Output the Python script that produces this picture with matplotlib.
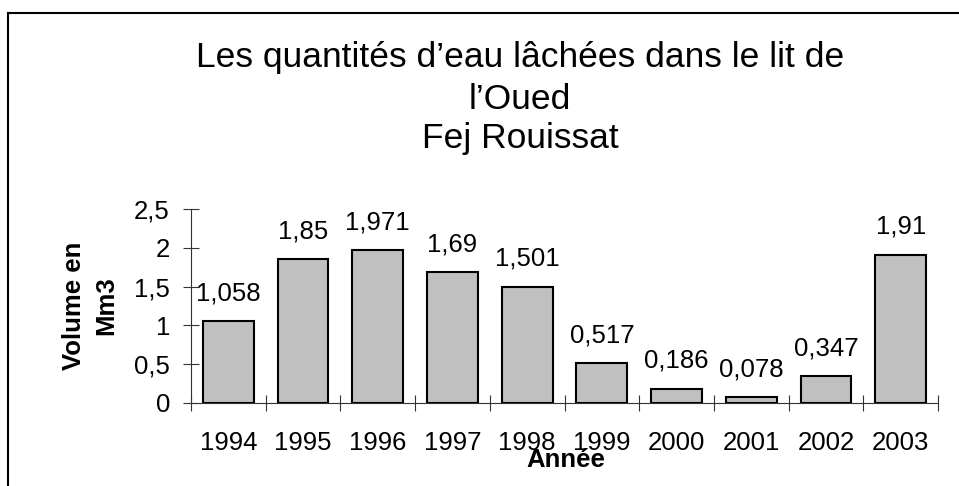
import matplotlib
matplotlib.use("Agg")
import matplotlib.pyplot as plt
from matplotlib.lines import Line2D

# Chart data
years = ["1994", "1995", "1996", "1997", "1998", "1999", "2000", "2001", "2002", "2003"]
volumes = [1.058, 1.85, 1.971, 1.69, 1.501, 0.517, 0.186, 0.078, 0.347, 1.91]
value_labels = ["1,058", "1,85", "1,971", "1,69", "1,501", "0,517", "0,186", "0,078", "0,347", "1,91"]
y_ticks = [0, 0.5, 1, 1.5, 2, 2.5]
y_tick_labels = ["0", "0,5", "1", "1,5", "2", "2,5"]
title_lines = ["Les quantités d\u2019eau lâchées dans le lit de", "l\u2019Oued", "Fej Rouissat"]

plt.rcParams["font.family"] = ["Liberation Sans", "DejaVu Sans"]

W, H = 959, 486
fig = plt.figure(figsize=(W / 100, H / 100), dpi=100)
ax = fig.add_axes([191 / W, 1 - 403 / H, (938 - 191) / W, (403 - 209) / H])

x = list(range(len(years)))
ax.bar(x, volumes, width=0.68, color="#c0c0c0", edgecolor="black", linewidth=1.5, zorder=3)

for xi, v, lab in zip(x, volumes, value_labels):
    ax.annotate(lab, (xi, v), xytext=(0, 15), textcoords="offset points",
                ha="center", va="baseline", fontsize=18.5)

ax.set_xlim(-0.5, len(years) - 0.5)
ax.set_ylim(0, 2.5)

# major x ticks at category boundaries, labels on minor ticks at centers
ax.set_xticks([i - 0.5 for i in range(len(years) + 1)])
ax.set_xticklabels([])
ax.set_xticks(x, minor=True)
ax.set_xticklabels(years, minor=True, fontsize=18.5)
ax.tick_params(axis="x", which="major", direction="inout", length=11.5, width=0.8, color="#333333")
ax.tick_params(axis="x", which="minor", length=0, pad=20)

ax.set_yticks(y_ticks)
ax.set_yticklabels(y_tick_labels, fontsize=18.5)
ax.tick_params(axis="y", direction="inout", length=11.5, width=0.8, color="#333333", pad=9.4)

for side in ["top", "right"]:
    ax.spines[side].set_visible(False)
for side in ["left", "bottom"]:
    ax.spines[side].set_color("#333333")
    ax.spines[side].set_linewidth(0.8)

# title, three lines
for yb, line in zip([67, 109, 148], title_lines):
    fig.text(520 / W, 1 - yb / H, line, ha="center", va="baseline", fontsize=25.5)

fig.text(90 / W, 1 - 306 / H, "Volume en\nMm3", rotation=90, ha="center", va="center",
         fontsize=18.5, fontweight="bold", linespacing=1.4, multialignment="center")
fig.text(566 / W, 1 - 467 / H, "Année", ha="center", va="baseline", fontsize=18.5, fontweight="bold")

# chart area border (top and left visible)
fig.add_artist(Line2D([7.5 / W, 1], [1 - 13.5 / H, 1 - 13.5 / H], color="black", linewidth=1.5))
fig.add_artist(Line2D([7.5 / W, 7.5 / W], [0, 1 - 13.5 / H], color="black", linewidth=1.5))

fig.savefig("out.png", dpi=100)
